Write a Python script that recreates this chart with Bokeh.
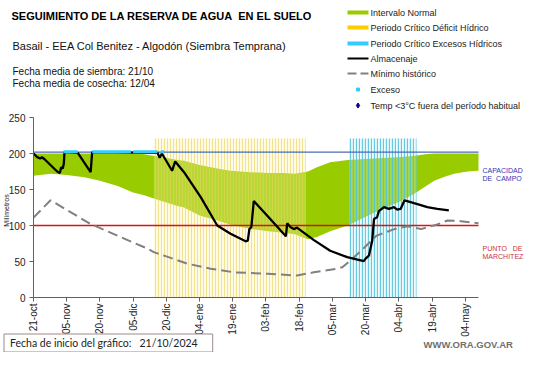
import math
from bokeh.plotting import figure
from bokeh.models import ColumnDataSource, FixedTicker, Label, Range1d
from bokeh.embed import file_html
from bokeh.resources import INLINE

# ---------------- data (day 0 = 21-oct-2024) ----------------
tick_days = [0, 15, 30, 45, 60, 75, 90, 105, 120, 135, 150, 165, 180, 195]
tick_labels = ["21-oct", "05-nov", "20-nov", "05-dic", "20-dic", "04-ene", "19-ene",
               "03-feb", "18-feb", "05-mar", "20-mar", "04-abr", "19-abr", "04-may"]
y_ticks = [0, 50, 100, 150, 200, 250]
x_end = 201  # last day shown on the axis

normal_days = [0, 8, 15, 23, 30, 38, 45, 50, 54, 60, 65, 68, 75, 83, 89, 98, 106, 113, 118,
               124, 128, 134, 142, 148, 154, 160, 166, 172, 177, 181, 186, 190, 196, 201]
normal_upper = [200, 200, 200, 200, 200, 200, 200, 199, 197, 194, 191, 190, 184, 179, 176, 174,
                173, 173, 172, 175, 181, 188, 191, 192, 193, 194, 195, 197, 199, 200, 200, 200, 200, 200]
normal_lower = [169, 172, 170, 167, 162, 155, 146, 142, 138, 132, 127, 125, 114, 107, 101, 95,
                92, 90, 88, 81, 84, 92, 100, 109, 118, 126, 134, 144, 154, 162, 168, 172, 175, 176]

alm_days = [0, 1.7, 3, 3.8, 5, 10.7, 11.9, 12.5, 13.2, 13.7, 14, 20, 25.8, 26.5, 56, 57, 58,
            62.6, 64, 68, 75.6, 83, 89, 95.8, 96.8, 97.5, 98.4, 99.5, 105.5, 114, 114.6, 116,
            117.6, 119, 126.5, 134, 141.7, 149.2, 150, 151.5, 153, 153.8, 155.2, 156, 158.3,
            160.5, 162.8, 164.3, 165.8, 167.6, 171.9, 177.9, 182.4, 187.6]
alm_vals = [200, 195, 193, 195, 192, 175, 173, 181, 179, 186, 202, 201, 174, 202, 201, 194, 200,
            176, 189, 174, 139, 100, 88.5, 78, 79, 95, 98, 134, 114, 85, 103, 98,
            95, 97, 80, 65, 56, 50.5, 54, 58, 79, 109, 111.5, 120, 125.5,
            123, 125.5, 122, 123, 135, 131, 125.5, 123, 121]

min_days = [0, 7.7, 25.8, 51.4, 54.3, 62, 69.4, 80, 90.5, 105.6, 119, 126.6, 137, 139.5, 143,
            149, 155, 163, 169, 175, 182, 187, 193, 201]
min_vals = [111, 135, 102, 68, 63, 55, 47, 40, 35, 33, 30.5, 35, 40, 42, 51,
            68, 86, 95, 99, 95, 101, 107, 106, 103]

exceso_start = [13.5, 26.5, 45, 57.5]
exceso_end = [20, 44, 56, 59]
exceso_level = 202.5

deficit_period = [54.3, 123]
excess_period = [142.6, 173]
period_top = 221

capacidad_campo = 202
punto_marchitez = 100

legend_labels = ["Intervalo Normal", "Periodo Crítico Déficit Hídrico",
                 "Periodo Crítico Excesos Hídricos", "Almacenaje", "Mínimo histórico",
                 "Exceso", "Temp <3°C fuera del período habitual"]

NB = "\u00a0"

# ---------------- geometry (page pixels -> data) ----------------
W, H = 525, 352
FL, FR, FT, FB = 33, 478, 117, 297    # where the axes sit
PX_PER_DAY = (FR - FL) / x_end
PX_PER_MM = (FB - FT) / 250.0
FONT = "Liberation Sans"

def X(gx):
    return (gx - FL) / PX_PER_DAY

def Y(gy):
    return (FB - gy) / PX_PER_MM

p = figure(width=W, height=H, x_range=Range1d(X(0), X(W)), y_range=Range1d(Y(H), Y(0)),
           output_backend="svg", toolbar_location=None,
           min_border=0, min_border_left=0, min_border_right=0, min_border_top=0,
           min_border_bottom=0)
p.outline_line_color = None
p.grid.visible = False

# normal interval
src_n = ColumnDataSource(dict(x=normal_days, y1=normal_lower, y2=normal_upper))
p.varea(x="x", y1="y1", y2="y2", source=src_n, fill_color="#99cc00")

# critical periods (striped)
p.quad(left=[deficit_period[0]], right=[deficit_period[1]], bottom=[0], top=[period_top],
       fill_color="#fff3b0", fill_alpha=0.3, line_color=None,
       hatch_pattern="vertical_line", hatch_color="#e8d256", hatch_alpha=0.6,
       hatch_scale=3, hatch_weight=1.1)
p.quad(left=[excess_period[0]], right=[excess_period[1]], bottom=[0], top=[period_top],
       fill_color="#c8eef6", fill_alpha=0.3, line_color=None,
       hatch_pattern="vertical_line", hatch_color="#4fc3da", hatch_alpha=0.85,
       hatch_scale=3, hatch_weight=1.3)

# reference lines
p.line(x=[tick_days[0], x_end], y=[capacidad_campo, capacidad_campo],
       line_color="#4a6cb3", line_width=1.2)
p.line(x=[tick_days[0], x_end], y=[punto_marchitez, punto_marchitez],
       line_color="#e01010", line_width=1.4)

# series
p.line(min_days, min_vals, line_color="#808080", line_width=2, line_dash="10 5")
p.line(alm_days, alm_vals, line_color="black", line_width=2.3)
p.segment(x0=exceso_start, x1=exceso_end, y0=[exceso_level] * len(exceso_start),
          y1=[exceso_level] * len(exceso_start), line_color="#33ccff", line_width=3)

# axes fixed at the origin
p.xaxis.fixed_location = 0
p.yaxis.fixed_location = 0
p.xaxis.ticker = FixedTicker(ticks=tick_days)
p.xaxis.major_label_overrides = {d: l for d, l in zip(tick_days, tick_labels)}
p.xaxis.major_label_orientation = math.pi / 2
p.xaxis.bounds = (0, x_end)
p.xaxis.major_label_standoff = 2
p.yaxis.ticker = FixedTicker(ticks=y_ticks)
p.yaxis.bounds = (0, 250)
p.yaxis.major_label_standoff = 4
for ax in (p.xaxis, p.yaxis):
    ax.minor_tick_line_color = None
    ax.major_tick_in = 0
    ax.major_tick_out = 4
    ax.axis_line_color = "#606060"
    ax.major_tick_line_color = "#606060"
    ax.major_label_text_font = FONT
    ax.major_label_text_font_size = "10px"
    ax.major_label_text_color = "#222222"

def txt(s, gx, gy, size, color="#000000", style="normal", align="left", angle=0.0,
        font=FONT):
    p.add_layout(Label(x=X(gx), y=Y(gy), text=s, text_font=font, text_font_size=size,
                       text_color=color, text_font_style=style, text_align=align,
                       text_baseline="middle", angle=angle))

# header texts
txt("SEGUIMIENTO DE LA RESERVA DE AGUA" + NB + " EN EL SUELO", 11, 15, "11px", style="bold")
txt("Basail - EEA Col Benitez - Algodón (Siembra Temprana)", 12, 45.5, "11px", color="#111111")
txt("Fecha media de siembra: 21/10", 12, 70.5, "10px", color="#111111")
txt("Fecha media de cosecha: 12/04", 12, 82.5, "10px", color="#111111")

# legend (keys drawn beside each label)
row_cy = [12, 27, 43, 58, 73, 89, 105]
KEY_L, KEY_R = 347, 368
line_keys = [dict(line_color="#99cc00", line_width=4),
             dict(line_color="#ffcc00", line_width=4),
             dict(line_color="#33ccff", line_width=4),
             dict(line_color="black", line_width=2),
             dict(line_color="#808080", line_width=2, line_dash="9 4")]
for st, cy in zip(line_keys, row_cy[:5]):
    p.segment(x0=[X(KEY_L)], x1=[X(KEY_R)], y0=[Y(cy)], y1=[Y(cy)], **st)
p.scatter(x=[X((KEY_L + KEY_R) / 2)], y=[Y(row_cy[5])], marker="square", size=3,
          fill_color="#33ccff", line_color="#33ccff")
p.scatter(x=[X((KEY_L + KEY_R) / 2)], y=[Y(row_cy[6])], marker="diamond", size=5,
          fill_color="#000099", line_color="#000099")
for lab, cy in zip(legend_labels, row_cy):
    txt(lab, KEY_R + 2, cy, "9px", color="#222222")

# side texts
txt("Milímetros", 6, 210, "7px", color="#222222", align="center", angle=math.pi / 2)
txt("CAPACIDAD", 482, 170, "7px", color="#3333bb")
txt("DE" + NB + " CAMPO", 482, 178, "7px", color="#3333bb")
txt("PUNTO" + NB + NB + " DE", 482, 248, "7px", color="#cc3344")
txt("MARCHITEZ", 482, 256, "7px", color="#cc3344")

# footer
p.add_layout(Label(x=X(3.5), y=Y(333.5),
                   text="Fecha de inicio del gráfico:" + NB + NB + " 21/10/2024",
                   text_font="Lato", text_font_size="10.5px", text_color="#222222",
                   anchor="top_left", text_align="left", text_baseline="middle",
                   padding=dict(left=6, right=15, top=3, bottom=3),
                   border_line_color="#9c8a8a", border_line_width=1,
                   background_fill_color="white"))
txt("WWW.ORA.GOV.AR", 423, 344, "9.5px", color="#707070", style="bold")

open("out.html", "w").write(file_html(p, INLINE))
